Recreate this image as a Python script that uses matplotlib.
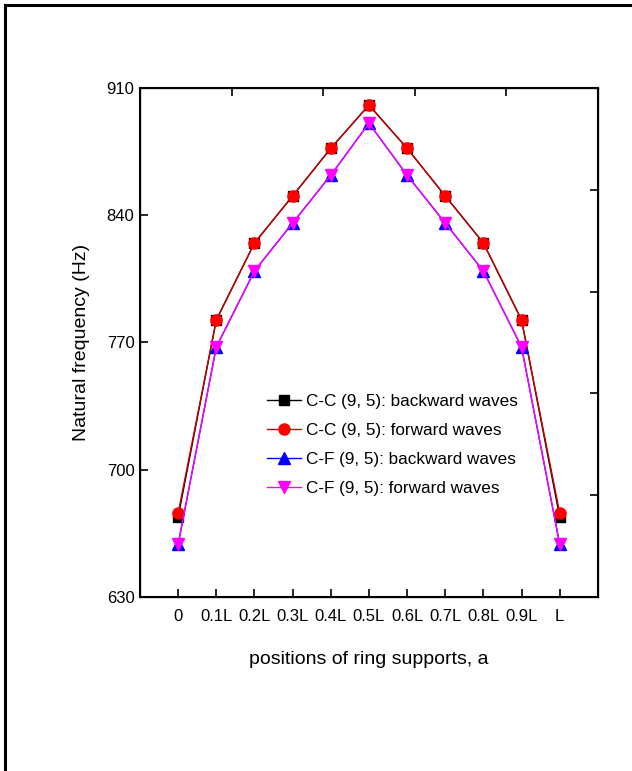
import numpy as np
import matplotlib.pyplot as plt
from matplotlib.lines import Line2D

plt.rcParams['font.family'] = ['Liberation Sans', 'DejaVu Sans']

positions = ["0", "0.1L", "0.2L", "0.3L", "0.4L", "0.5L",
             "0.6L", "0.7L", "0.8L", "0.9L", "L"]
cc_backward = [674.0, 782.4, 824.7, 850.6, 876.8, 900.6, 876.8, 850.6, 824.7, 782.4, 674.0]
cc_forward = [676.2, 782.4, 824.7, 850.6, 876.8, 900.6, 876.8, 850.6, 824.7, 782.4, 676.2]
cf_backward = [659.0, 767.5, 809.3, 835.7, 862.0, 890.6, 862.0, 835.7, 809.3, 767.5, 659.0]
cf_forward = [659.0, 767.5, 809.3, 835.7, 862.0, 890.6, 862.0, 835.7, 809.3, 767.5, 659.0]

x = np.arange(len(positions))

fig = plt.figure(figsize=(6.32, 7.71), dpi=100)
ax = fig.add_axes([0.2215, 0.2257, 0.7245, 0.6602])

ax.plot(x, cc_backward, color="black", lw=1.0, marker="s", ms=7,
        label="C-C (9, 5): backward waves")
ax.plot(x, cc_forward, color="#cc0000", lw=1.0, marker="o", ms=8,
        markerfacecolor="red", markeredgecolor="red",
        label="C-C (9, 5): forward waves")
ax.plot(x, cf_backward, color="blue", lw=1.0, marker="^", ms=8,
        label="C-F (9, 5): backward waves")
ax.plot(x, cf_forward, color="magenta", lw=1.0, marker="v", ms=8,
        label="C-F (9, 5): forward waves")

ax.set_xlim(-1, 11)
ax.set_ylim(630, 910)
ax.set_xticks(x)
ax.set_xticklabels(positions)
ax.set_yticks([630, 700, 770, 840, 910])
ax.tick_params(axis="both", direction="in", length=6, width=1.2, labelsize=12)
ax.tick_params(axis="x", pad=9)
ax.tick_params(axis="y", pad=4)
for s in ax.spines.values():
    s.set_linewidth(1.5)

# mirror axes with their own evenly spaced ticks
top = ax.twiny()
top.set_xlim(ax.get_xlim())
top.set_xticks(np.linspace(-1, 11, 6)[1:-1])
top.tick_params(direction="in", length=6, width=1.2, labeltop=False)
right = ax.twinx()
right.set_ylim(ax.get_ylim())
right.set_yticks(np.linspace(630, 910, 6)[1:-1])
right.tick_params(direction="in", length=6, width=1.2, labelright=False)

ax.set_xlabel("positions of ring supports, a", fontsize=14, labelpad=19)
ax.set_ylabel("Natural frequency (Hz)", fontsize=14, labelpad=12)

ax.legend(loc="upper left", bbox_to_anchor=(0.262, 0.412), frameon=False,
          fontsize=12.3, handlelength=2.0, handletextpad=0.3,
          labelspacing=0.81, borderaxespad=0)

# page frame lines along the top and left edges
fig.add_artist(Line2D([0.008, 1.0], [0.994, 0.994], transform=fig.transFigure,
                      color="black", lw=2.2))
fig.add_artist(Line2D([0.008, 0.008], [0.0, 0.994], transform=fig.transFigure,
                      color="black", lw=2.2))

fig.savefig("out.png", dpi=100)
